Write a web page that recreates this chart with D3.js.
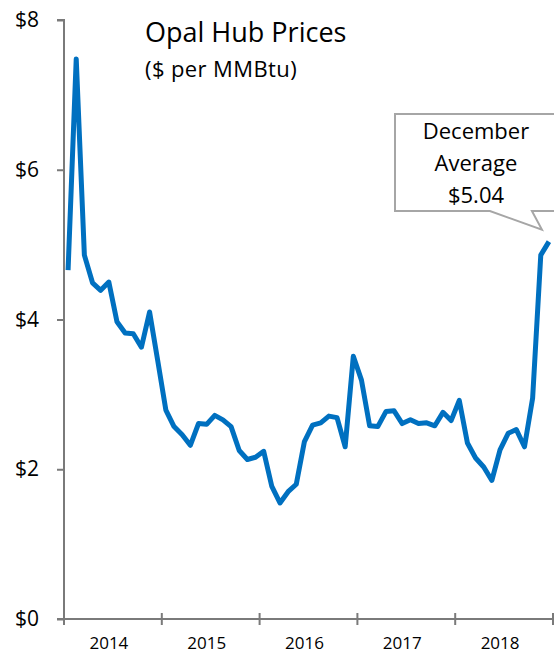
<!DOCTYPE html>
<html>
<head>
<meta charset="utf-8">
<script src="https://cdn.jsdelivr.net/npm/d3@7"></script>
<style>
  html, body { margin: 0; padding: 0; background: #fff; }
  svg { display: block; font-family: "Open Sans", "Noto Sans", sans-serif; }
</style>
</head>
<body>
<svg id="chart" width="554" height="655"></svg>
<script>
// Monthly average prices at Opal Hub, January 2014 – December 2018 ($/MMBtu)
const years = ["2014", "2015", "2016", "2017", "2018"];
const prices2014 = [4.66, 7.48, 4.86, 4.49, 4.39, 4.50, 3.97, 3.82, 3.81, 3.63, 4.10, 3.45];
const prices2015 = [2.79, 2.57, 2.46, 2.32, 2.61, 2.60, 2.72, 2.66, 2.57, 2.25, 2.13, 2.16];
const prices2016 = [2.24, 1.77, 1.55, 1.70, 1.80, 2.37, 2.59, 2.62, 2.71, 2.69, 2.30, 3.51];
const prices2017 = [3.19, 2.58, 2.57, 2.77, 2.78, 2.61, 2.66, 2.61, 2.62, 2.58, 2.76, 2.65];
const prices2018 = [2.92, 2.35, 2.15, 2.03, 1.85, 2.26, 2.48, 2.53, 2.30, 2.95, 4.86, 5.04];
const yTicks = [0, 2, 4, 6, 8];
const calloutLines = ["December", "Average", "$5.04"];

const prices = [...prices2014, ...prices2015, ...prices2016, ...prices2017, ...prices2018];
const months = prices.map((v, i) => ({ i, v }));

const svg = d3.select("#chart");
const axisColor = "#7a7a7a";

const x = d3.scaleLinear().domain([0, prices.length]).range([64, 553]);
const y = d3.scaleLinear().domain([0, 8]).range([619, 20]);

// Y axis
const yAxis = svg.append("g")
  .attr("transform", `translate(${x(0)},0)`)
  .call(d3.axisLeft(y).tickValues(yTicks).tickSize(7).tickPadding(18)
    .tickFormat(d => "$" + d));
yAxis.select(".domain").attr("stroke", axisColor).attr("stroke-width", 2)
  .attr("d", `M-7,${y(8)}H0V${y(0)}`);
yAxis.selectAll(".tick line").attr("stroke", axisColor).attr("stroke-width", 2);
yAxis.selectAll(".tick text")
  .attr("fill", "#000").style("font-size", "21px")
  .style("font-family", '"Open Sans", sans-serif');

// X axis: year boundaries as ticks, year names centred under each year
const boundaries = d3.range(0, prices.length + 1, 12);
const xAxis = svg.append("g").attr("transform", `translate(0,${y(0)})`);
xAxis.append("line")
  .attr("x1", x(0) - 7).attr("x2", x(prices.length))
  .attr("stroke", axisColor).attr("stroke-width", 2);
xAxis.selectAll("line.tick").data(boundaries).join("line")
  .attr("class", "tick")
  .attr("x1", d => x(d)).attr("x2", d => x(d))
  .attr("y1", d => d === 0 ? 0 : -6).attr("y2", 6)
  .attr("stroke", axisColor).attr("stroke-width", 2);
xAxis.selectAll("text").data(years).join("text")
  .attr("x", (d, k) => x(k * 12 + 6) - 4)
  .attr("y", 30)
  .attr("text-anchor", "middle")
  .style("font-size", "17px")
  .attr("fill", "#000")
  .text(d => d);

// Price line
const line = d3.line()
  .x(d => x(d.i + 0.5))
  .y(d => y(d.v));
svg.append("path")
  .datum(months)
  .attr("d", line)
  .attr("fill", "none")
  .attr("stroke", "#0070c0")
  .attr("stroke-width", 5)
  .attr("stroke-linejoin", "round");

// Title
svg.append("text")
  .attr("x", 145).attr("y", 42)
  .style("font-size", "27px")
  .attr("fill", "#000")
  .text("Opal Hub Prices");
svg.append("text")
  .attr("x", 145).attr("y", 77)
  .style("font-size", "22px")
  .style("letter-spacing", "0.4px")
  .attr("fill", "#000")
  .text("($ per MMBtu)");

// Callout for the latest month
const last = months[months.length - 1];
const tipX = x(last.i + 0.5) - 7;
const tipY = y(last.v) - 12;
const box = { left: 395, top: 114, right: 562, bottom: 211 };
const callout = svg.append("g");
callout.append("path")
  .attr("d", `M${box.left},${box.top}H${box.right}V${box.bottom}H${tipX - 10}` +
             `L${tipX},${tipY}L${tipX - 52},${box.bottom}H${box.left}Z`)
  .attr("fill", "#fff")
  .attr("stroke", "#a6a6a6")
  .attr("stroke-width", 2);
callout.selectAll("text").data(calloutLines).join("text")
  .attr("x", 476)
  .attr("y", (d, k) => 139 + k * 32)
  .attr("text-anchor", "middle")
  .style("font-size", "22px")
  .attr("fill", "#000")
  .text(d => d);
</script>
</body>
</html>
